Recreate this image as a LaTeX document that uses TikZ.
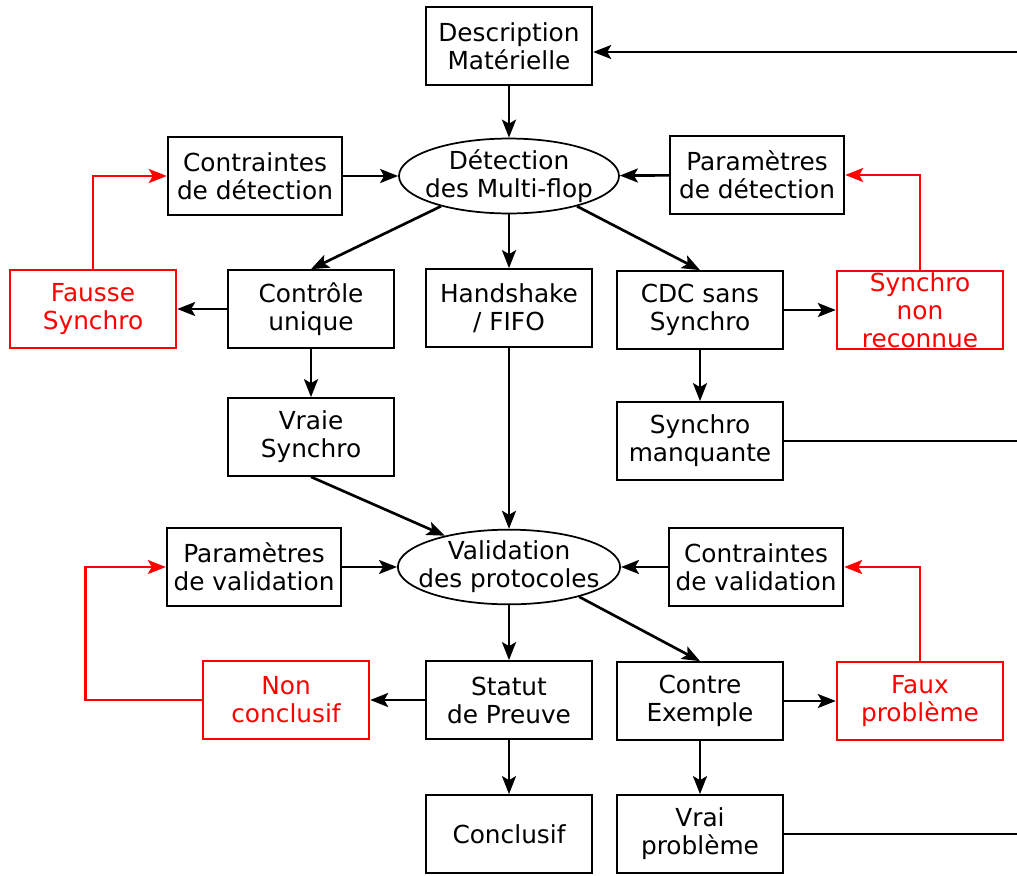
\documentclass[tikz,border=0pt]{standalone}
\usepackage{fontspec}
\setmainfont{DejaVu Sans}
\usetikzlibrary{shapes.geometric,arrows.meta}

\begin{document}
\begin{tikzpicture}[x=0.75pt,y=-0.75pt,
		every node/.style={font=\fontsize{18.6}{21}\selectfont,align=center},
		box/.style={draw,line width=1.3pt,minimum width=125pt,minimum height=58.5pt,inner sep=0pt},
		large/.style={box,minimum width=131pt},
		faux/.style={box,red},
		etape/.style={draw,line width=1.3pt,ellipse,minimum width=165pt,minimum height=56pt,inner ysep=0pt,inner xsep=-9pt},
		fleche/.style={line width=2pt,-{Stealth[length=13.5pt,width=10.5pt,inset=3pt]}},
		rouge/.style={fleche,red}]
		\useasboundingbox (0,0) rectangle (1017,875);
		% detection
		\node[box] (desc) at (509,46) {Description\\Matérielle};
		\node[etape] (detect) at (509,176) {Détection\\des Multi-flop};
		\node[large] (contrD) at (255,176) {Contraintes\\de détection};
		\node[large] (paramD) at (757,175) {Paramètres\\de détection};
		\node[faux] (fausse) at (93,309) {Fausse\\Synchro};
		\node[box] (controle) at (311,309) {Contrôle\\unique};
		\node[box] (hand) at (509,308) {Handshake\\/ FIFO};
		\node[box] (cdc) at (700,310) {CDC sans\\Synchro};
		\node[faux] (nonrec) at (920,310) {Synchro\\non\\reconnue};
		\node[box] (vraie) at (311,437) {Vraie\\Synchro};
		\node[box] (manq) at (700,441) {Synchro\\manquante};
		% validation
		\node[etape] (valid) at (509,567) {Validation\\des protocoles};
		\node[large] (paramV) at (254,567) {Paramètres\\de validation};
		\node[large] (contrV) at (756,567) {Contraintes\\de validation};
		\node[faux] (noncl) at (286,700) {Non\\conclusif};
		\node[box] (statut) at (509,700) {Statut\\de Preuve};
		\node[box] (contre) at (700,701) {Contre\\Exemple};
		\node[faux] (fauxpb) at (920,701) {Faux\\problème};
		\node[box] (concl) at (509,834) {Conclusif};
		\node[box] (vraipb) at (700,834) {Vrai\\problème};
		\coordinate (ret1) at (1017,52);
		\coordinate (ret2) at (1017,438);
		\coordinate (ret3) at (1017,833);

		\draw[fleche] (ret1) -- (ret1 -| desc.east);
		\draw[fleche] (desc) -- (detect);
		\draw[fleche] (contrD) -- (detect);
		\draw[fleche] (paramD) -- (detect);
		\draw[fleche] (detect.-156) -- (controle.north);
		\draw[fleche] (detect) -- (hand);
		\draw[fleche] (detect.-24) -- (cdc.north);
		\draw[fleche] (controle) -- (fausse);
		\draw[fleche] (cdc) -- (nonrec);
		\draw[fleche] (controle) -- (vraie);
		\draw[fleche] (cdc) -- (manq);
		\draw[line width=2pt] (manq.east) -- (ret2 |- manq.east);
		\draw[rouge] (fausse.north) |- (contrD.west);
		\draw[rouge] (nonrec.north) |- (paramD.east);

		\draw[fleche] (vraie.south) -- (valid.154);
		\draw[fleche] (hand) -- (valid);
		\draw[fleche] (paramV) -- (valid);
		\draw[fleche] (contrV) -- (valid);
		\draw[fleche] (valid) -- (statut);
		\draw[fleche] (valid.-23) -- (contre.north);
		\draw[fleche] (statut) -- (noncl);
		\draw[fleche] (contre) -- (fauxpb);
		\draw[fleche] (statut) -- (concl);
		\draw[fleche] (contre) -- (vraipb);
		\draw[line width=2pt] (vraipb.east) -- (ret3 |- vraipb.east);
		\draw[rouge] (noncl.west) -- ++(-116,0) |- (paramV.west);
		\draw[rouge] (fauxpb.north) |- (contrV.east);
\end{tikzpicture}
\end{document}
